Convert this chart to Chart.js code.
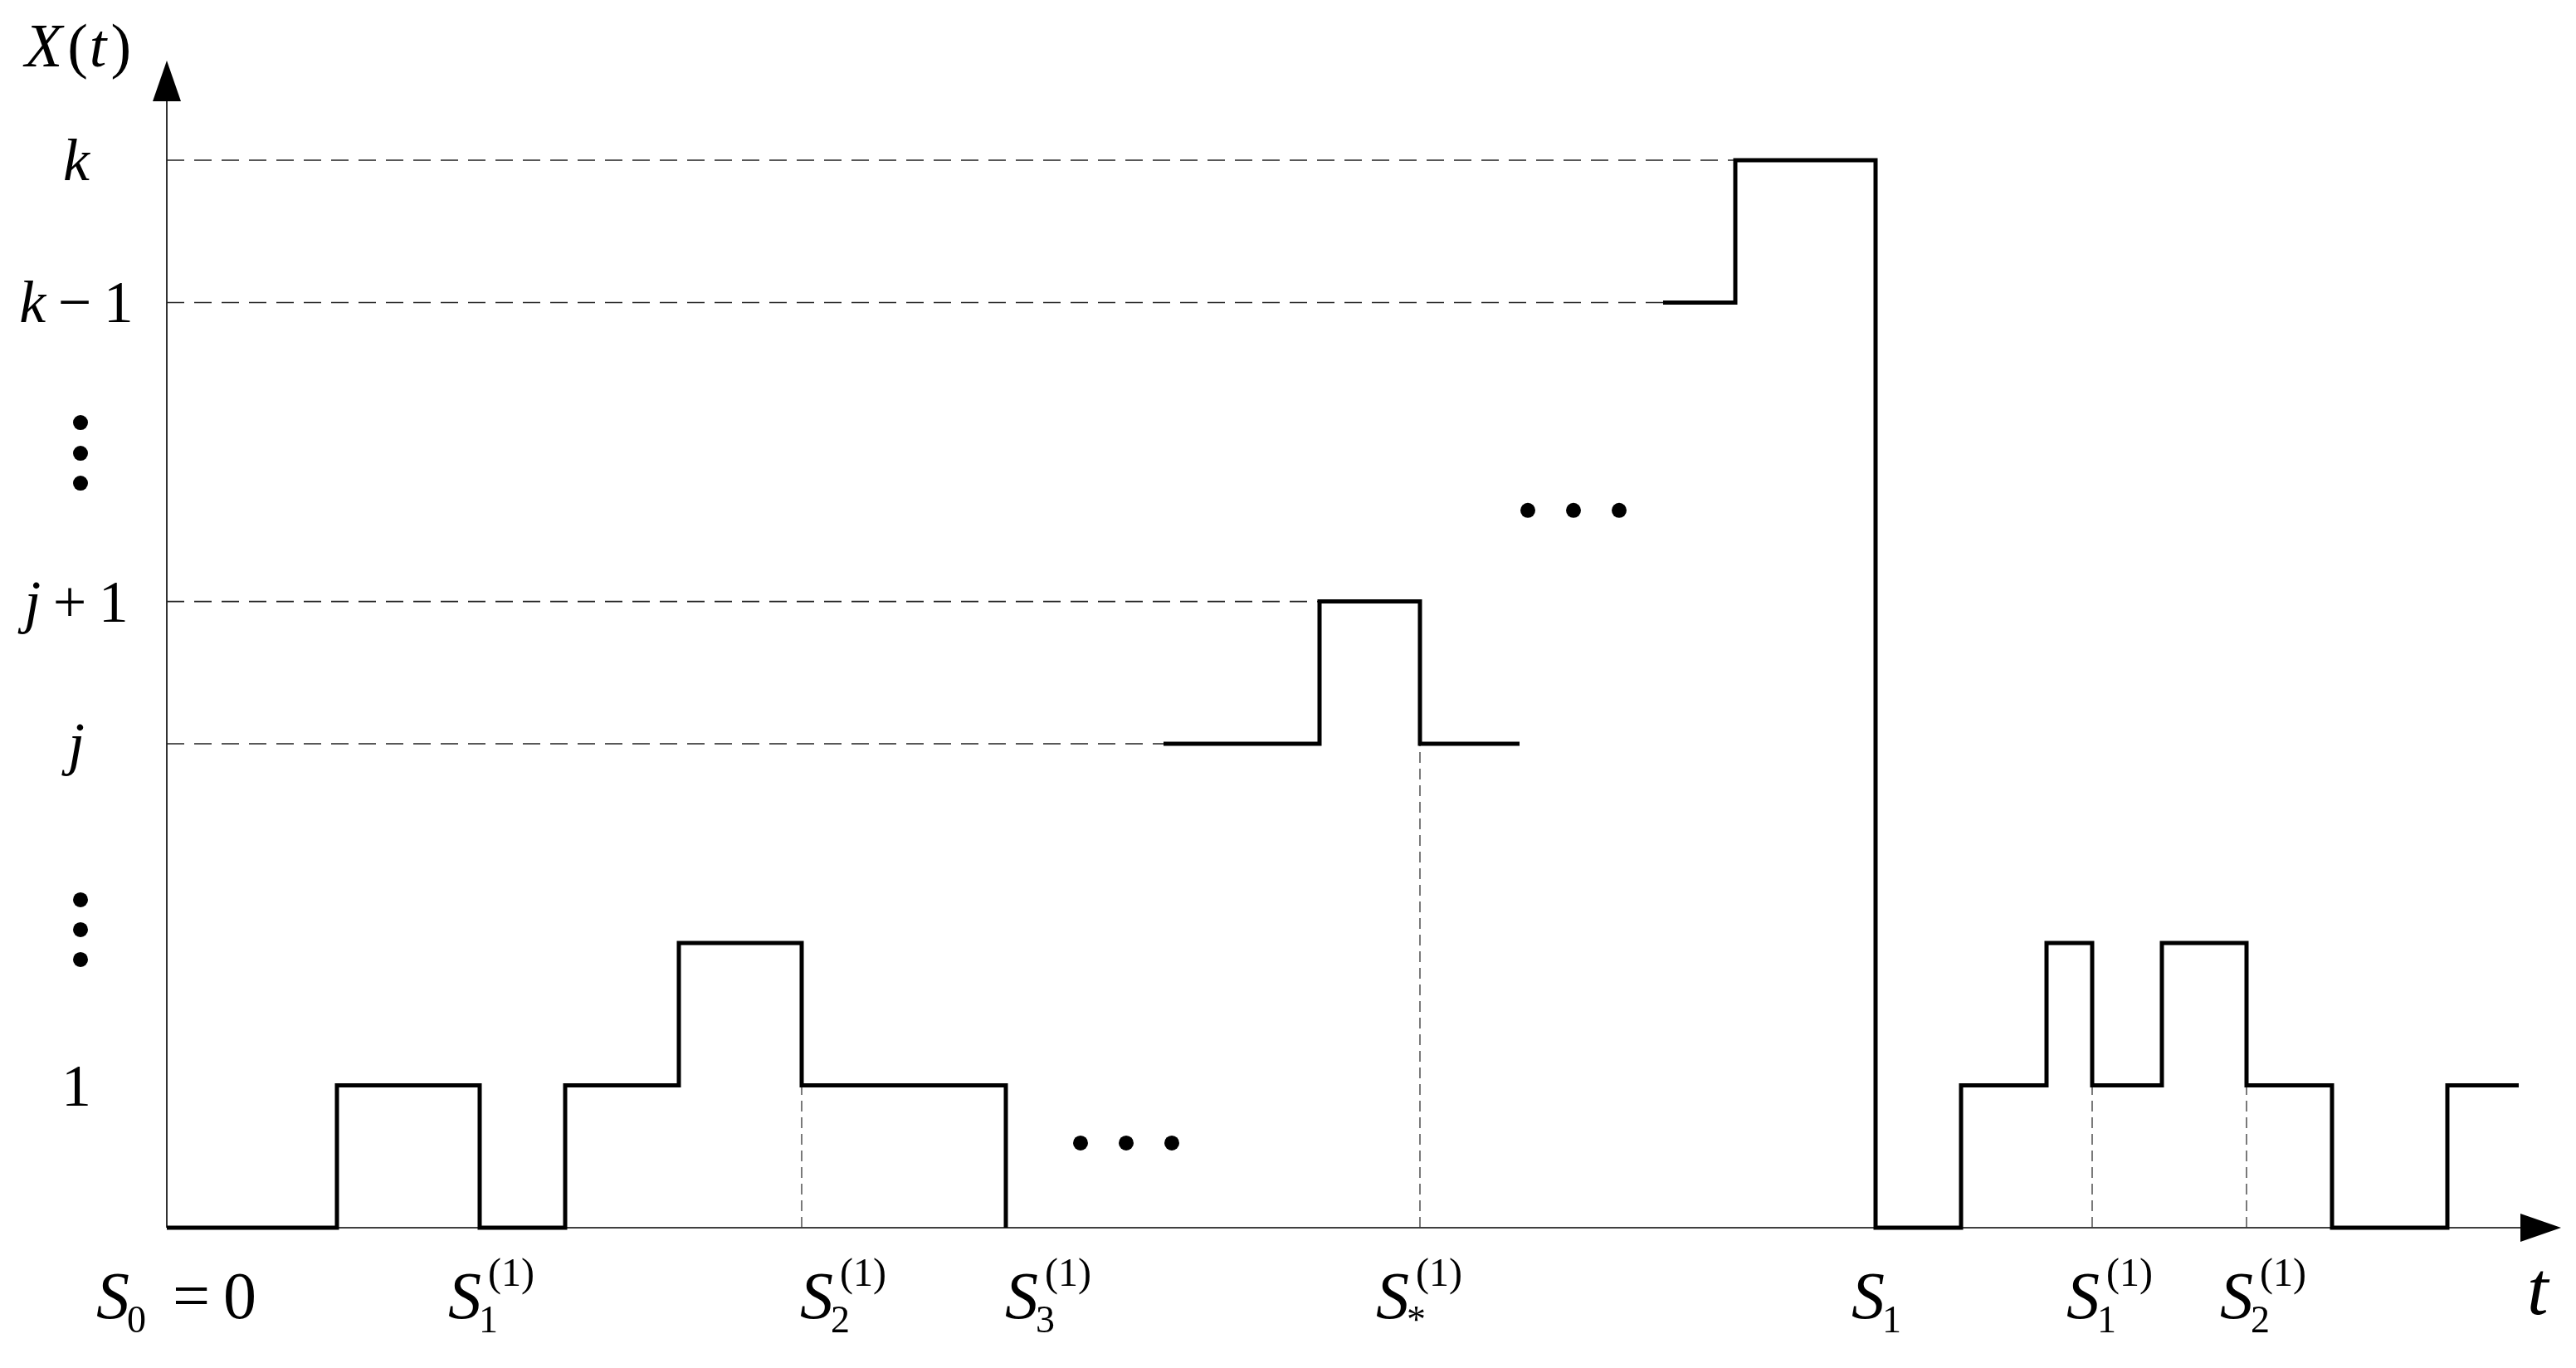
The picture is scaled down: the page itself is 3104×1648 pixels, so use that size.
<!DOCTYPE html>
<html>
<head>
<meta charset="utf-8">
<script src="https://cdn.jsdelivr.net/npm/chart.js@4.4.0/dist/chart.umd.min.js"></script>
<style>
  html, body { margin: 0; padding: 0; background: #fff; }
  #wrap { width: 3104px; height: 1648px; position: relative; }
</style>
</head>
<body>
<div id="wrap"><canvas id="chart"></canvas></div>
<script>
// levels marked on the X(t) axis
const levelNames = ['1', 'j', 'j+1', 'k−1', 'k'];
const levelValues = [1, 3.4, 4.4, 6.5, 7.5];
const guideLevels = [3.4, 4.4, 6.5, 7.5];

// the sample path in three pieces: jump times and level reached at each jump
const firstTimes = [0, 10.25, 18.85, 24, 30.85, 38.25, 50.55];
const firstLevels = [0, 1, 0, 1, 2, 1, 0];
const middleTimes = [60.05, 69.45, 75.5, 81.5];
const middleLevels = [3.4, 4.4, 3.4, 3.4];
const lastTimes = [90.15, 94.5, 102.95, 108.1, 113.25, 116, 120.2, 125.3, 130.45, 137.4, 141.7];
const lastLevels = [6.5, 7.5, 0, 1, 2, 1, 2, 1, 0, 1, 1];

// marked times on the t axis
const eventTimes = [0, 18.85, 38.25, 50.55, 75.5, 102.95, 116, 125.3];
const eventSubs = ['0', '1', '2', '3', '*', '1', '1', '2'];
const eventSups = ['', '(1)', '(1)', '(1)', '(1)', '', '(1)', '(1)'];
const dropTimes = [38.25, 75.5, 116, 125.3];

// the "..." marks
const dotsTimes = [55.05, 57.8, 60.55, 82, 84.75, 87.5];
const dotsLevels = [0.595, 0.595, 0.595, 5.04, 5.04, 5.04];
const vdotsLevels = [5.657, 5.441, 5.231, 2.304, 2.094, 1.884];

const tMax = 144.25, yMax = 8.2;

const pts = (ts, vs) => ts.map((t, i) => ({ x: t, y: vs[i] }));
const allTimes = firstTimes.concat(middleTimes, lastTimes);
const allLevels = firstLevels.concat(middleLevels, lastLevels);
const levelAt = t => allLevels[allTimes.indexOf(t)];
const firstHit = v => allTimes[allLevels.indexOf(v)];

const stepStyle = {
    stepped: true, borderColor: '#000', borderWidth: 5, pointRadius: 0,
    fill: false, clip: false, borderJoinStyle: 'miter', borderCapStyle: 'butt'
};
const guideStyle = {
    borderColor: '#222', borderWidth: 1.7, borderDash: [21, 12],
    pointRadius: 0, fill: false, clip: false
};
const dropStyle = {
    borderColor: '#333', borderWidth: 1.3, borderDash: [13, 7],
    pointRadius: 0, fill: false, clip: false
};

const datasets = [
    Object.assign({ data: pts(firstTimes, firstLevels) }, stepStyle),
    Object.assign({ data: pts(middleTimes, middleLevels) }, stepStyle),
    Object.assign({ data: pts(lastTimes, lastLevels) }, stepStyle),
    {
        data: pts(dotsTimes, dotsLevels),
        showLine: false, pointRadius: 9, pointBackgroundColor: '#000',
        pointBorderWidth: 0, clip: false
    }
];
guideLevels.forEach(v => {
    datasets.push(Object.assign({ data: [{ x: 0, y: v }, { x: firstHit(v), y: v }] }, guideStyle));
});
dropTimes.forEach(t => {
    datasets.push(Object.assign({ data: [{ x: t, y: 0 }, { x: t, y: levelAt(t) }] }, dropStyle));
});

const serif = "'Liberation Serif', 'Times New Roman', serif";

function drawRuns(ctx, x, y, runs) {
    runs.forEach(r => {
        ctx.font = r.font;
        x += r.gap || 0;
        ctx.fillText(r.text, x, y + (r.dy || 0));
        x += ctx.measureText(r.text).width;
    });
    return x;
}

// letters italic, digits and signs upright, a bit of space round the signs
function mathRuns(text, size) {
    const runs = [];
    for (const ch of text) {
        if (/[a-zA-Z]/.test(ch)) runs.push({ text: ch, font: `italic ${size}px ${serif}` });
        else if (/[+−=]/.test(ch)) runs.push({ text: ch, font: `${size}px ${serif}`, gap: size * 0.2 });
        else runs.push({ text: ch, font: `${size}px ${serif}`, gap: runs.length && /[+−=]/.test(runs[runs.length - 1].text) ? size * 0.2 : 0 });
    }
    return runs;
}

function runsWidth(ctx, runs) {
    let w = 0;
    runs.forEach(r => { ctx.font = r.font; w += (r.gap || 0) + ctx.measureText(r.text).width; });
    return w;
}

function arrow(ctx, tipX, tipY, dx, dy) {
    // dx,dy: unit direction of the arrow
    const len = 49, half = 17;
    const bx = tipX - dx * len, by = tipY - dy * len;
    ctx.beginPath();
    ctx.moveTo(tipX, tipY);
    ctx.lineTo(bx - dy * half, by + dx * half);
    ctx.lineTo(bx + dy * half, by - dx * half);
    ctx.closePath();
    ctx.fill();
}

const labelShift = [-85, -38, -2, -1, -53, -29, -31, -32];
const labelColumn = 92;

const sketch = {
    id: 'sketch',
    beforeDatasetsDraw(chart) {
        const ctx = chart.ctx, xs = chart.scales.x, ys = chart.scales.y;
        const x0 = xs.getPixelForValue(0), y0 = ys.getPixelForValue(0);
        const xEnd = xs.getPixelForValue(tMax), yEnd = ys.getPixelForValue(yMax);
        ctx.save();
        ctx.strokeStyle = '#000';
        ctx.fillStyle = '#000';
        ctx.lineWidth = 1.6;
        ctx.beginPath();
        ctx.moveTo(x0, y0);
        ctx.lineTo(xEnd - 40, y0);
        ctx.moveTo(x0, y0);
        ctx.lineTo(x0, yEnd + 40);
        ctx.stroke();
        arrow(ctx, xEnd, y0, 1, 0);
        arrow(ctx, x0, yEnd, 0, -1);
        ctx.restore();
    },
    afterDatasetsDraw(chart) {
        const ctx = chart.ctx, xs = chart.scales.x, ys = chart.scales.y;
        const y0 = ys.getPixelForValue(0);
        ctx.save();
        ctx.fillStyle = '#000';
        ctx.textBaseline = 'alphabetic';
        ctx.textAlign = 'left';

        // level labels, centred in the left margin
        levelNames.forEach((name, i) => {
            const runs = mathRuns(name, 72);
            const w = runsWidth(ctx, runs);
            drawRuns(ctx, labelColumn - w / 2, ys.getPixelForValue(levelValues[i]) + 24, runs);
        });

        // vertical dots between the level labels
        vdotsLevels.forEach(v => {
            ctx.beginPath();
            ctx.arc(labelColumn + 5, ys.getPixelForValue(v), 9, 0, Math.PI * 2);
            ctx.fill();
        });

        // X(t)
        drawRuns(ctx, 30, 80, [
            { text: 'X', font: `italic 74px ${serif}` },
            { text: '(', font: `74px ${serif}`, gap: 6 },
            { text: 't', font: `italic 74px ${serif}`, gap: 2 },
            { text: ')', font: `74px ${serif}`, gap: 5 }
        ]);

        // event labels under the t axis
        const base = y0 + 109;
        eventTimes.forEach((t, i) => {
            const x = xs.getPixelForValue(t) + labelShift[i];
            ctx.font = `italic 80px ${serif}`;
            ctx.fillText('S', x, base);
            const sx = x + ctx.measureText('S').width;
            ctx.font = `46px ${serif}`;
            ctx.fillText(eventSubs[i], sx - 3, base + 17);
            const end = sx - 3 + ctx.measureText(eventSubs[i]).width;
            if (eventSups[i]) {
                ctx.font = `48px ${serif}`;
                ctx.fillText(eventSups[i], sx + 8, base - 39);
            }
            if (t === 0) {
                drawRuns(ctx, end, base, [
                    { text: '=', font: `80px ${serif}`, gap: 32 },
                    { text: '0', font: `80px ${serif}`, gap: 16 }
                ]);
            }
        });

        // t at the end of the axis
        ctx.font = `italic 92px ${serif}`;
        ctx.fillText('t', 3045, y0 + 104);
        ctx.restore();
    }
};

new Chart(document.getElementById('chart'), {
    type: 'line',
    data: { datasets: datasets },
    options: {
        responsive: true,
        maintainAspectRatio: false,
        animation: false,
        devicePixelRatio: 1,
        layout: { padding: { left: 201, right: 18, top: 73, bottom: 169 } },
        scales: {
            x: { type: 'linear', min: 0, max: tMax, display: false },
            y: { type: 'linear', min: 0, max: yMax, display: false }
        },
        plugins: {
            legend: { display: false },
            tooltip: { enabled: false }
        }
    },
    plugins: [sketch]
});
</script>
</body>
</html>
